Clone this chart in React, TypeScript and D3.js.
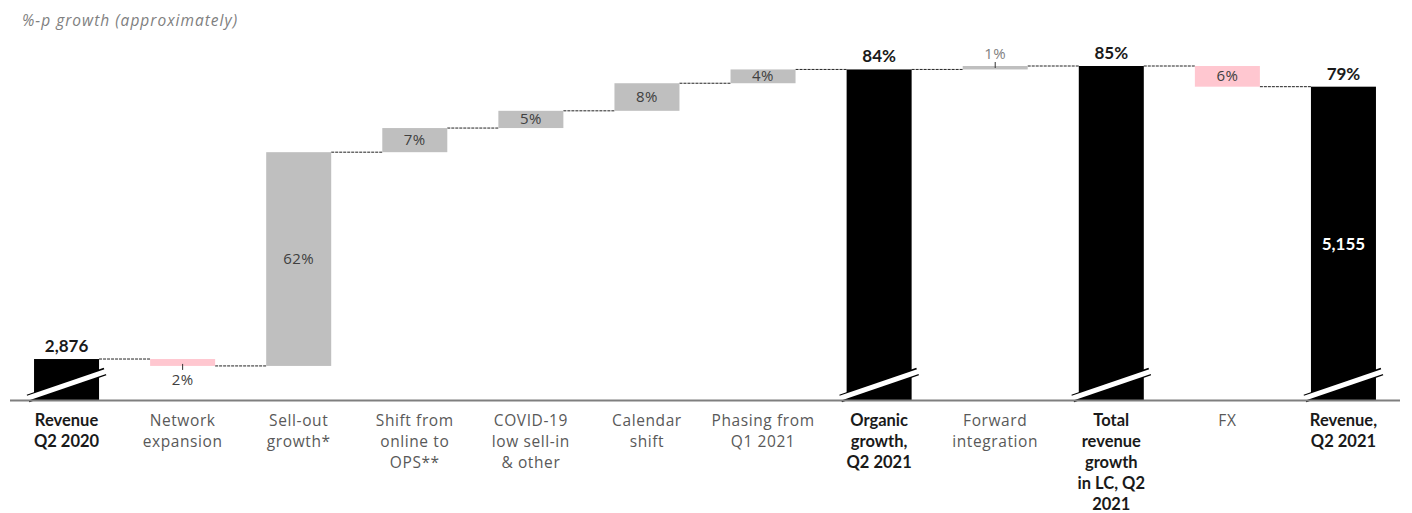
import React from 'react';
import * as d3 from 'd3';

const W = 1412
const H = 513

// chart data
const categories = [
  ['Revenue', 'Q2 2020'],
  ['Network', 'expansion'],
  ['Sell-out', 'growth*'],
  ['Shift from', 'online to', 'OPS**'],
  ['COVID-19', 'low sell-in', '& other'],
  ['Calendar', 'shift'],
  ['Phasing from', 'Q1 2021'],
  ['Organic', 'growth,', 'Q2 2021'],
  ['Forward', 'integration'],
  ['Total', 'revenue', 'growth', 'in LC, Q2', '2021'],
  ['FX'],
  ['Revenue,', 'Q2 2021'],
]
const isTotal = [true, false, false, false, false, false, false, true, false, true, false, true]
// totals are levels, the rest are changes in %-points
const values = [0, -2, 62, 7, 5, 8, 4, 84, 1, 85, -6, 79]
const valueLabels = ['2,876', '2%', '62%', '7%', '5%', '8%', '4%', '84%', '1%', '85%', '6%', '79%']
const labelPos = ['above', 'below', 'inside', 'inside', 'inside', 'inside', 'inside', 'above', 'above', 'above', 'inside', 'above']
const endRevenue = '5,155'

const colors = {
  total: '#000000',
  up: '#bfbfbf',
  down: '#ffc7d0',
  axis: '#7f7f7f',
  text: '#404040',
  label: '#595959',
}

const boldFont = 'Lato, sans-serif'
const lightFont = '"Open Sans", sans-serif'

export default function App() {
  const x = d3
    .scaleBand()
    .domain(categories.map((d, i) => String(i)))
    .range([8.5, 1401.5])
    .paddingInner(0.44)
    .paddingOuter(0.22)

  const y = d3.scaleLinear().domain([-12, 85]).range([400.4, 66])
  const baseY = y(-12)

  // build the steps
  let level = 0
  const steps = values.map((v, i) => {
    let from, to
    if (isTotal[i]) {
      level = v
      from = -12
      to = v
    } else {
      from = level
      to = level + v
      level = to
    }
    return { i, v, from, to, end: level }
  })

  const bw = x.bandwidth()

  return (
    <svg width={W} height={H} style={{ position: 'absolute', left: 0, top: 0, background: '#fff' }}>
      <text x={22} y={26} fontFamily={lightFont} fontStyle="italic" fontSize={15.5} letterSpacing={1} fill="#7f7f7f">
        %-p growth (approximately)
      </text>

      {/* connectors */}
      {steps.slice(0, -1).map(s => (
        <line
          key={'c' + s.i}
          x1={x(String(s.i)) + bw}
          x2={x(String(s.i + 1))}
          y1={y(s.end)}
          y2={y(s.end)}
          stroke="#222"
          strokeWidth={1}
          strokeDasharray="3,1"
        />
      ))}

      {/* bars */}
      {steps.map(s => {
        const x0 = x(String(s.i))
        const top = y(Math.max(s.from, s.to))
        const bot = y(Math.min(s.from, s.to))
        const fill = isTotal[s.i] ? colors.total : s.v < 0 ? colors.down : colors.up
        return <rect key={'b' + s.i} x={x0} y={top} width={bw} height={bot - top} fill={fill} />
      })}

      {/* axis break marks on the totals */}
      {steps.filter(s => isTotal[s.i]).map(s => {
        const x0 = x(String(s.i))
        return (
          <g key={'k' + s.i}>
            <line x1={x0 - 6} y1={baseY - 2} x2={x0 + bw + 6} y2={baseY - 29} stroke="#000" strokeWidth={8} />
            <line x1={x0 - 7} y1={baseY - 2} x2={x0 + bw + 7} y2={baseY - 29} stroke="#fff" strokeWidth={5} />
          </g>
        )
      })}

      <line x1={10} x2={1400} y1={baseY} y2={baseY} stroke={colors.axis} strokeWidth={2} />

      {/* value labels */}
      {steps.map(s => {
        const cx = x(String(s.i)) + bw / 2
        const top = y(Math.max(s.from, s.to))
        const bot = y(Math.min(s.from, s.to))
        const pos = labelPos[s.i]
        const bold = isTotal[s.i]
        let ty = (top + bot) / 2 + 5
        if (pos === 'above') ty = top - 7
        if (pos === 'below') ty = bot + 19
        const fill = bold ? '#1a1a1a' : s.i === 8 ? '#7f7f7f' : colors.text
        return (
          <g key={'v' + s.i}>
            {!isTotal[s.i] && pos !== 'inside' && (
              <line
                x1={cx}
                x2={cx}
                y1={pos === 'below' ? bot - 2 : top + 2}
                y2={pos === 'below' ? bot + 4 : top - 4}
                stroke="#333"
                strokeWidth={1}
              />
            )}
            <text
              x={cx}
              y={ty}
              textAnchor="middle"
              fontFamily={bold ? boldFont : lightFont}
              fontSize={bold ? 17 : 15}
              letterSpacing={bold ? 0 : 0.5}
              fontWeight={bold ? 700 : 400}
              fill={fill}
            >
              {valueLabels[s.i]}
            </text>
          </g>
        )
      })}

      <text
        x={x(String(categories.length - 1)) + bw / 2}
        y={(y(79) + baseY) / 2 + 6}
        textAnchor="middle"
        fontFamily={boldFont}
        fontSize={17}
        fontWeight={700}
        fill="#fff"
      >
        {endRevenue}
      </text>

      {/* category labels */}
      {categories.map((lines, i) => (
        <text
          key={'l' + i}
          x={x(String(i)) + bw / 2}
          textAnchor="middle"
          fontFamily={isTotal[i] ? boldFont : lightFont}
          fontSize={isTotal[i] ? 16.5 : 15.5}
          letterSpacing={isTotal[i] ? 0 : 0.6}
          fontWeight={isTotal[i] ? 700 : 400}
          fill={isTotal[i] ? '#1a1a1a' : colors.label}
        >
          {lines.map((t, j) => (
            <tspan key={j} x={x(String(i)) + bw / 2} y={426 + j * 21}>
              {t}
            </tspan>
          ))}
        </text>
      ))}
    </svg>
  )
}
